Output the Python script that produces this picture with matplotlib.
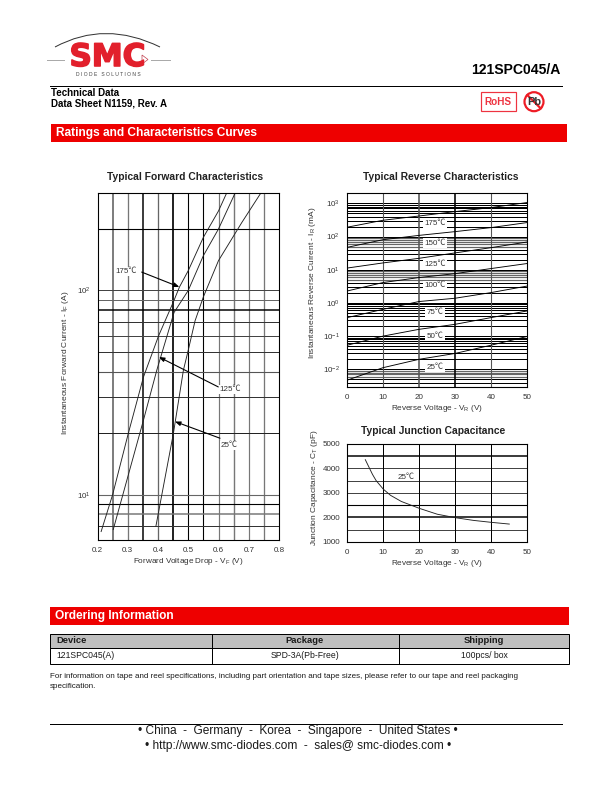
import numpy as np
import matplotlib
matplotlib.use('Agg')
import matplotlib.pyplot as plt
import matplotlib.patheffects as pe
from matplotlib.patches import Rectangle, Circle, PathPatch, Polygon
from matplotlib.path import Path

plt.rcParams['font.family'] = ['Liberation Sans', 'Noto Sans CJK SC', 'DejaVu Sans']
plt.rcParams['mathtext.fontset'] = 'custom'
plt.rcParams['mathtext.rm'] = 'Liberation Sans'
plt.rcParams['mathtext.default'] = 'regular'

W, H = 612, 792
TXT = '#1a1a1a'

# --------------------
# Data
# --------------------

# forward characteristics: VF (V), IF (A)
vf_175 = [0.212, 0.25, 0.302, 0.352, 0.402, 0.451, 0.471, 0.50, 0.55, 0.60, 0.627]
if_175 = [6.6, 10, 20, 37.7, 60, 88, 104, 125, 182, 245, 300]
vf_125 = [0.252, 0.352, 0.396, 0.453, 0.50, 0.55, 0.60, 0.655]
if_125 = [6.75, 23.2, 40.7, 78, 100, 148, 200, 300]
vf_25 = [0.393, 0.451, 0.484, 0.50, 0.5225, 0.55, 0.60, 0.65, 0.677, 0.74]
if_25 = [7.0, 20, 40.7, 51, 71, 93, 140, 185, 215, 300]

forward_x_ticks = [0.2, 0.3, 0.4, 0.5, 0.6, 0.7, 0.8]
forward_v_grid = [0.25, 0.30, 0.35, 0.40, 0.45, 0.50, 0.55, 0.60, 0.65, 0.70, 0.75]
forward_h_grid = [7, 8, 9, 10, 20, 30, 40, 50, 60, 70, 80, 90, 100, 200]

# reverse characteristics: VR (V), IR (mA)
vr = [0, 10, 20, 30, 40, 50]
ir_175 = [190, 308, 414, 562, 741, 1050]
ir_150 = [47, 80, 108, 140, 185, 262]
ir_125 = [11.2, 16, 22, 32, 46, 68]
ir_100 = [2.28, 4.1, 5.8, 7.6, 10.8, 15.3]
ir_75 = [0.36, 0.64, 1.1, 1.38, 2.04, 3.2]
ir_50 = [0.053, 0.10, 0.16, 0.226, 0.36, 0.57]
ir_25 = [0.0047, 0.0112, 0.02, 0.030, 0.053, 0.097]
reverse_names = ['175℃', '150℃', '125℃', '100℃', '75℃', '50℃', '25℃']
reverse_name_y = [251, 62, 14.8, 3.24, 0.52, 0.10, 0.0115]

# junction capacitance: VR (V), CT (pF)
vr_cap = [5, 7, 8, 10, 12, 15, 20, 25, 30, 35, 40, 45]
ct = [4350, 3750, 3500, 3150, 2900, 2650, 2370, 2130, 1990, 1880, 1800, 1730]


def place(fig, left, top, right, bottom):
    return fig.add_axes([left / W, 1 - bottom / H, (right - left) / W, (bottom - top) / H])


fig = plt.figure(figsize=(W / 72, H / 72), dpi=72, facecolor='white')

# page layer, in pixels
page = fig.add_axes([0, 0, 1, 1], zorder=0)
page.set_xlim(0, W)
page.set_ylim(H, 0)
page.axis('off')

# logo
page.add_patch(PathPatch(Path([(55, 47), (105, 20), (160, 47)], [Path.MOVETO, Path.CURVE3, Path.CURVE3]),
                         fill=False, ec='#333333', lw=1))
page.plot([47, 64], [59.5, 59.5], color='#aaaaaa', lw=1)
page.plot([151, 170], [59.5, 59.5], color='#aaaaaa', lw=1)
page.text(107.5, 57.5, 'SMC', color='#e2202c', fontsize=31, fontweight='bold', family='DejaVu Sans',
          ha='center', va='center', path_effects=[pe.withStroke(linewidth=1.6, foreground='#e2202c')])
page.add_patch(Polygon([(142, 55), (148, 59.5), (142, 64)], fill=True, fc='white', ec='#c04050', lw=0.7))
page.text(108, 75, 'D I O D E   S O L U T I O N S', color='#444444', fontsize=5, ha='center', va='center')

# header
page.text(561, 70, '121SPC045/A', fontsize=14, fontweight='bold', color='black', ha='right', va='center')
page.plot([50, 562], [85.5, 85.5], color='black', lw=1)
page.text(51, 92.5, 'Technical Data', fontsize=9.8, fontweight='bold', color='black', va='center')
page.text(51, 104, 'Data Sheet N1159, Rev. A', fontsize=9.8, fontweight='bold', color='black', va='center')

page.add_patch(Rectangle((481, 92), 34.5, 19, fill=False, ec='#ee3340', lw=1.2))
page.text(498.2, 101.7, 'RoHS', color='#ee3340', fontsize=10, fontweight='bold', ha='center', va='center')
page.text(534, 102, 'Pb', color='#333333', fontsize=11, fontweight='bold', ha='center', va='center')
page.add_patch(Circle((534, 101.7), 9.5, fill=False, ec='#ee1c25', lw=2.2))
page.plot([527.3, 540.7], [95, 108.4], color='#ee1c25', lw=2.2)

# red bands
page.add_patch(Rectangle((51, 124), 516, 18, fc='#ee0000', ec='none'))
page.text(56, 133, 'Ratings and Characteristics Curves', color='white', fontsize=11.9, fontweight='bold', va='center')
page.add_patch(Rectangle((50, 607), 519, 18, fc='#ee0000', ec='none'))
page.text(55, 616, 'Ordering Information', color='white', fontsize=11.9, fontweight='bold', va='center')

# ordering table
page.add_patch(Rectangle((50, 633.5), 519, 14.5, fc='#bfbfbf', ec='none'))
page.add_patch(Rectangle((50, 633.5), 519, 30, fill=False, ec='black', lw=1))
page.plot([50, 569], [648, 648], color='black', lw=1)
page.plot([212, 212], [633.5, 663.5], color='black', lw=1)
page.plot([399, 399], [633.5, 663.5], color='black', lw=1)
page.text(56, 640.5, 'Device', fontsize=9.4, fontweight='bold', color=TXT, va='center')
page.text(305, 640.5, 'Package', fontsize=9.4, fontweight='bold', color=TXT, ha='center', va='center')
page.text(484, 640.5, 'Shipping', fontsize=9.4, fontweight='bold', color=TXT, ha='center', va='center')
page.text(56, 655.5, '121SPC045(A)', fontsize=8.6, color=TXT, va='center')
page.text(305, 655.5, 'SPD-3A(Pb-Free)', fontsize=8.6, color=TXT, ha='center', va='center')
page.text(484, 655.5, '100pcs/ box', fontsize=8.6, color=TXT, ha='center', va='center')
page.text(50, 677, 'For information on tape and reel specifications, including part orientation and tape sizes, '
          'please refer to our tape and reel packaging', fontsize=8, color=TXT, va='center')
page.text(50, 686, 'specification.', fontsize=8, color=TXT, va='center')

# footer
page.plot([50, 562], [723.5, 723.5], color='black', lw=1)
page.text(298, 731, '• China  -  Germany  -  Korea  -  Singapore  -  United States •', fontsize=11.9,
          color=TXT, ha='center', va='center')
page.text(298, 746, '• http://www.smc-diodes.com  -  sales@ smc-diodes.com •', fontsize=11.9,
          color=TXT, ha='center', va='center')

# --------------------
# Forward characteristics
# --------------------
ax1 = place(fig, 97.5, 193, 279, 540)
ax1.set_xlim(0.2, 0.8)
ax1.set_yscale('log')
ax1.set_ylim(6, 300)
v_styles = {0.25: ('#555555', 1.5), 0.30: ('#777777', 1.3), 0.35: ('black', 1.5), 0.40: ('#666666', 1.3),
            0.45: ('black', 1.7), 0.50: ('black', 1.1), 0.55: ('black', 1.1), 0.60: ('#777777', 1.2),
            0.65: ('#777777', 1.4), 0.70: ('#777777', 1.2), 0.75: ('#777777', 1.3)}
h_styles = {7: ('#333333', 1), 8: ('#777777', 1.5), 9: ('black', 1.1), 10: ('#666666', 1.1), 20: ('#222222', 1),
            30: ('#333333', 1), 40: ('#555555', 1.1), 50: ('#333333', 1), 60: ('#444444', 1), 70: ('#333333', 1),
            80: ('black', 1.5), 90: ('#666666', 1), 100: ('#444444', 1), 200: ('black', 1.1)}
for x in forward_v_grid:
    ax1.axvline(x, color=v_styles[x][0], lw=v_styles[x][1], zorder=1)
for y in forward_h_grid:
    ax1.axhline(y, color=h_styles[y][0], lw=h_styles[y][1], zorder=1)
for vs, cur in [(vf_175, if_175), (vf_125, if_125), (vf_25, if_25)]:
    ax1.plot(vs, cur, color='#222222', lw=0.9, zorder=2)
ax1.set_xticks(forward_x_ticks, [f'{x:.1f}' for x in forward_x_ticks])
ax1.set_yticks([10, 100], ['$10^{1}$', '$10^{2}$'])
ax1.minorticks_off()
ax1.tick_params(length=0, labelsize=8, labelcolor='#333333', pad=7)
ax1.set_xlabel('Forward Voltage Drop - V$_{F}$ (V)', fontsize=8.1, color='#333333', labelpad=2)
ax1.set_ylabel('Instantaneous Forward Current - I$_{F}$ (A)', fontsize=8.4, color='#333333')
ax1.yaxis.set_label_coords(-0.145, 0.51)
ax1.set_title('Typical Forward Characteristics', fontsize=10.2, fontweight='bold', color='#222222', x=0.48, pad=13)

arrow = dict(arrowstyle='-|>,head_length=0.45,head_width=0.18', color='black', lw=1.1, shrinkA=0, shrinkB=0)
box = dict(fc='white', ec='none', pad=1)
for name, lx, ly, sx, sy, tx, ty in [('175℃', 0.293, 124, 0.346, 123, 0.4704, 104),
                                     ('125℃', 0.638, 32.9, 0.5993, 33.7, 0.4033, 47.2),
                                     ('25℃', 0.635, 17.5, 0.605, 18.9, 0.4562, 22.8)]:
    ax1.annotate('', xy=(tx, ty), xytext=(sx, sy), arrowprops=arrow, zorder=4)
    ax1.text(lx, ly, name, fontsize=8, color='#333333', ha='center', va='center', bbox=box, zorder=3)

for s in ax1.spines.values():
    s.set_linewidth(1.1)

# --------------------
# Reverse characteristics
# --------------------
ax2 = place(fig, 347, 193.3, 526.7, 386.7)
ax2.set_xlim(0, 50)
ax2.set_yscale('log')
ax2.set_ylim(0.003, 2000)
for dec in range(-3, 4):
    for m in range(1, 10):
        y = m * 10.0 ** dec
        if 0.003 < y < 2000:
            gray = (dec in (1, 0) and m >= 5) or (dec == -3 and m >= 6)
            ax2.axhline(y, color='#666666' if gray else 'black', lw=1.2 if gray else 1, zorder=1)
for x, c, w in [(10, '#555555', 1.1), (20, '#555555', 1.6), (30, 'black', 1.6), (40, '#555555', 1.1)]:
    ax2.axvline(x, color=c, lw=w, zorder=1)
for cur in [ir_175, ir_150, ir_125, ir_100, ir_75, ir_50, ir_25]:
    ax2.plot(vr, cur, color='black', lw=0.9, zorder=2)
for name, y in zip(reverse_names, reverse_name_y):
    ax2.text(24.5, y, name, fontsize=8, color='#333333', ha='center', va='center',
             bbox=dict(fc='white', ec='none', pad=1.5), zorder=3)
ax2.set_xticks(vr, [str(v) for v in vr])
ax2.set_yticks([0.01, 0.1, 1, 10, 100, 1000],
               ['$10^{-2}$', '$10^{-1}$', '$10^{0}$', '$10^{1}$', '$10^{2}$', '$10^{3}$'])
ax2.minorticks_off()
ax2.tick_params(length=0, labelsize=8, labelcolor='#333333', pad=7)
ax2.set_xlabel('Reverse Voltage - V$_{R}$ (V)', fontsize=8.1, color='#333333', labelpad=2)
ax2.set_ylabel('Instantaneous Reverse Current - I$_{R}$ (mA)', fontsize=8.4, color='#333333')
ax2.yaxis.set_label_coords(-0.16, 0.536)
ax2.set_title('Typical Reverse Characteristics', fontsize=10.2, fontweight='bold', color='#222222', x=0.52, pad=13)
for s in ax2.spines.values():
    s.set_linewidth(1.1)

# --------------------
# Junction capacitance
# --------------------
ax3 = place(fig, 347.3, 443.7, 527.3, 542)
ax3.set_xlim(0, 50)
ax3.set_ylim(1000, 5000)
for y, c, w in [(1500, '#444444', 1), (2000, 'black', 1.5), (2500, 'black', 1.1), (3000, '#444444', 1),
                (3500, '#444444', 1), (4000, '#444444', 1), (4500, 'black', 1.5)]:
    ax3.axhline(y, color=c, lw=w, zorder=1)
for x in [10, 20, 30, 40]:
    ax3.axvline(x, color='black', lw=1, zorder=1)
ax3.plot(vr_cap, ct, color='#222222', lw=0.9, zorder=2)
ax3.text(16.3, 3630, '25℃', fontsize=8, color='#333333', ha='center', va='center', zorder=3)
ax3.set_xticks(vr, [str(v) for v in vr])
ax3.set_yticks([1000, 2000, 3000, 4000, 5000], ['1000', '2000', '3000', '4000', '5000'])
ax3.tick_params(length=0, labelsize=8, labelcolor='#333333', pad=7)
ax3.set_xlabel('Reverse Voltage - V$_{R}$ (V)', fontsize=8.1, color='#333333', labelpad=2)
ax3.set_ylabel('Junction Capacitance - C$_{T}$ (pF)', fontsize=8.4, color='#333333')
ax3.yaxis.set_label_coords(-0.15, 0.55)
ax3.set_title('Typical Junction Capacitance', fontsize=10.2, fontweight='bold', color='#222222', x=0.475, pad=10)
for s in ax3.spines.values():
    s.set_linewidth(1.1)

fig.savefig('out.png', dpi=72)
